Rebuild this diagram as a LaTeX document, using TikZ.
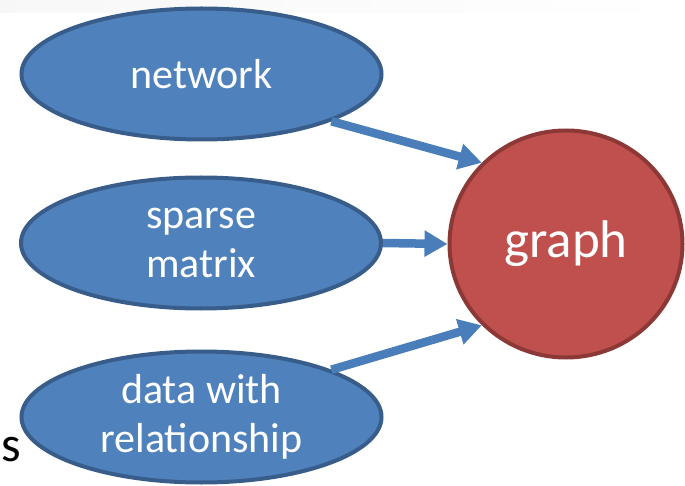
\documentclass[tikz,border=0pt]{standalone}
\usepackage{fontspec}
\setmainfont{Carlito}
\usetikzlibrary{shapes.geometric,arrows.meta}
\definecolor{ellfill}{HTML}{4F81BD}
\definecolor{elldraw}{HTML}{385D8A}
\definecolor{grfill}{HTML}{C0504D}
\definecolor{grdraw}{HTML}{8C3836}
\definecolor{arrcol}{HTML}{4A7EBB}
\tikzset{
  topic/.style={ellipse, draw=elldraw, fill=ellfill, line width=4pt,
    minimum width=360pt, minimum height=131pt, inner sep=0pt,
    text=white, align=center, font=\fontsize{42}{49}\selectfont},
  target/.style={ellipse, draw=grdraw, fill=grfill, line width=4pt,
    minimum width=233pt, minimum height=227pt, inner sep=0pt,
    text=white, font=\fontsize{53}{60}\selectfont},
  link/.style={draw=arrcol, line width=8.5pt,
    -{Triangle[length=23pt,width=25pt]}}
}
\begin{document}
\begin{tikzpicture}[x=1pt,y=-1pt]
\useasboundingbox (0,0) rectangle (685,486);
\shade[left color=black!3, middle color=black!9, right color=white] (0,0) rectangle (685,13);
\node[topic] (net) at (201.5,74) {network};
\node[topic] (sparse) at (201,243) {sparse\\matrix};
\node[topic] (data) at (201.5,417) {data with\\relationship};
\node[target] (graph) at (566,244) {graph};
\node[anchor=base west, inner sep=0pt, font=\fontsize{50}{60}\selectfont] (s) at (1,461) {s};
\draw[link] (net.-20) -- (graph.136);
\draw[link] (sparse.east) -- (graph.west);
\draw[link] (data.20) -- (graph.-136);
\end{tikzpicture}
\end{document}
